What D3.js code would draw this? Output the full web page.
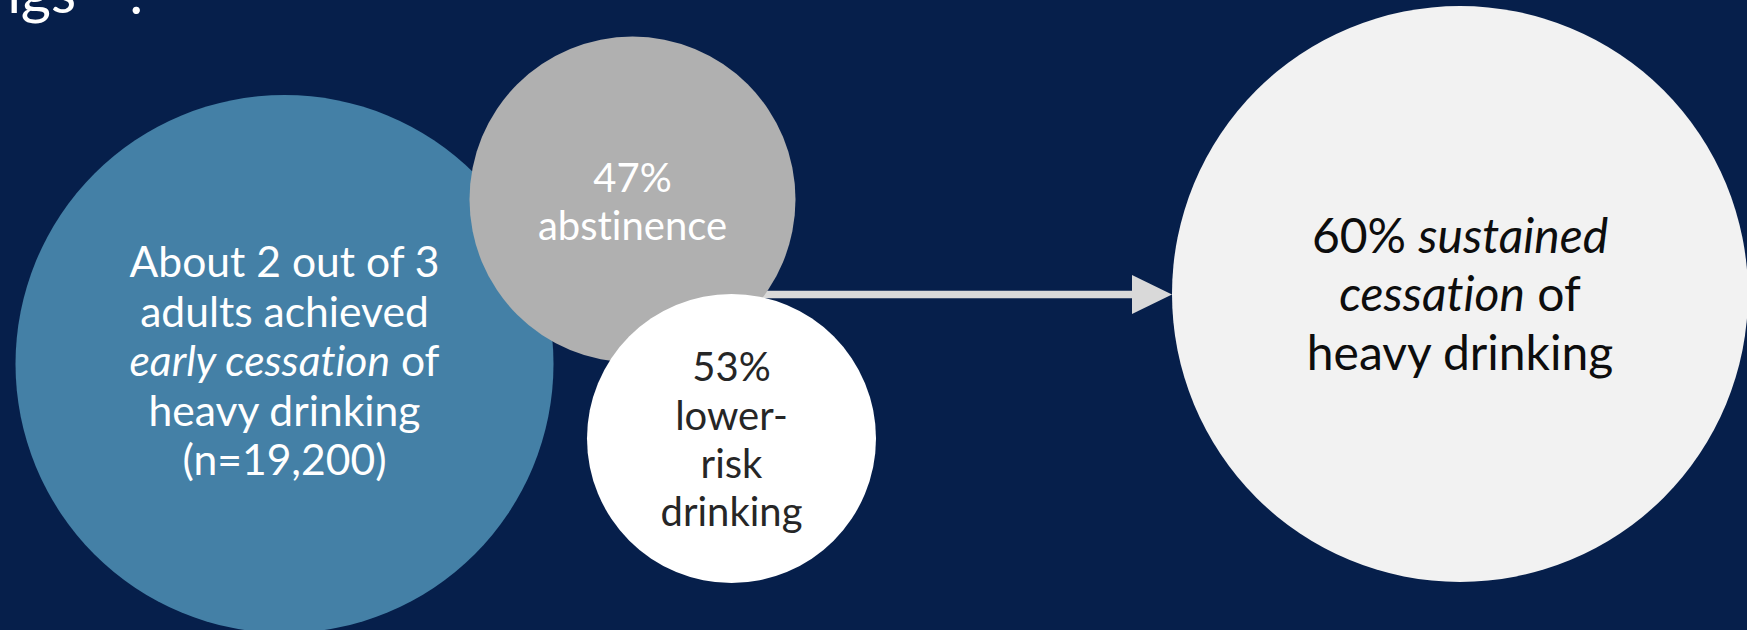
<!DOCTYPE html>
<html>
<head>
<meta charset="utf-8">
<script src="https://cdn.jsdelivr.net/npm/d3@7"></script>
<style>
	html, body { margin: 0; padding: 0; background: #061f4b; overflow: hidden; }
	svg { display: block; font-family: Lato, "Open Sans", sans-serif; font-variant-ligatures: none; }
</style>
</head>
<body>
<div id="chart"></div>
<script>
const svg_dimensions = {
	width: 1747,
	height: 630,
};

// Values shown in the bubbles
const early_cessation_share = "2 out of 3";
const early_cessation_n = "19,200";
const split_names = ["abstinence", "lower-risk drinking"];
const split_values = [47, 53];
const sustained_value = 60;

// Lines of each bubble: [text, italic]
const early_lines = [
	[["About " + early_cessation_share, false]],
	[["adults achieved", false]],
	[["early cessation", true], [" of", false]],
	[["heavy drinking", false]],
	[["(n=" + early_cessation_n + ")", false]],
];
const abstinence_lines = [
	[[split_values[0] + "%", false]],
	[[split_names[0], false]],
];
const lower_risk_lines = [
	[[split_values[1] + "%", false]],
	[["lower-", false]],
	[["risk", false]],
	[["drinking", false]],
];
const sustained_lines = [
	[[sustained_value + "% ", false], ["sustained", true]],
	[["cessation", true], [" of", false]],
	[["heavy drinking", false]],
];

// Layout in slide pixels (1747 x 630)
const bubbles = [
	{lines: early_lines, cx: 284.5, cy: 364, r: 269, fill: "#4480a6", color: "#ffffff", size: 42.6, lh: 49.5, dy: -3},
	{lines: abstinence_lines, cx: 632.5, cy: 199.5, r: 163, fill: "#b0b0b0", color: "#ffffff", size: 40, lh: 47.6, dy: 2},
	{lines: lower_risk_lines, cx: 731.5, cy: 438.5, r: 144.5, fill: "#ffffff", color: "#262626", size: 40, lh: 48.3, dy: 1},
	{lines: sustained_lines, cx: 1460, cy: 294, r: 288, fill: "#f2f2f2", color: "#0d0d0d", size: 48, lh: 58.5, dy: 0},
];
const arrow = {x0: 700, x1: 1172, y: 294.5, head_length: 40, head_half: 19.5, stroke: 7.5, color: "#d9d9d9"};

const x = d3.scaleLinear().domain([0, 1747]).range([0, svg_dimensions.width]);
const y = d3.scaleLinear().domain([0, 630]).range([0, svg_dimensions.height]);

const svg = d3.select("#chart")
	.append("svg")
		.attr("width", svg_dimensions.width)
		.attr("height", svg_dimensions.height);

svg.append("rect")
	.attr("width", svg_dimensions.width)
	.attr("height", svg_dimensions.height)
	.attr("fill", "#061f4b");

// Title, mostly cut off at the top of the slide
svg.append("text")
	.attr("x", x(76))
	.attr("y", y(13))
	.attr("text-anchor", "end")
	.attr("fill", "#ffffff")
	.attr("font-size", 58)
	.text("Key findings");
svg.append("text")
	.attr("x", x(92))
	.attr("y", y(-22))
	.attr("fill", "#ffffff")
	.attr("font-size", 34)
	.text("1");
svg.append("text")
	.attr("x", x(129))
	.attr("y", y(14))
	.attr("fill", "#ffffff")
	.attr("font-size", 58)
	.text(":");

// Arrow (drawn first so the grey bubble hides its tail)
svg.append("line")
	.attr("x1", x(arrow.x0))
	.attr("x2", x(arrow.x1 - arrow.head_length + 1))
	.attr("y1", y(arrow.y))
	.attr("y2", y(arrow.y))
	.attr("stroke", arrow.color)
	.attr("stroke-width", arrow.stroke);
svg.append("path")
	.attr("d", d3.line()([
		[x(arrow.x1 - arrow.head_length), y(arrow.y - arrow.head_half)],
		[x(arrow.x1), y(arrow.y)],
		[x(arrow.x1 - arrow.head_length), y(arrow.y + arrow.head_half)],
	]) + "Z")
	.attr("fill", arrow.color);

// Bubbles
const groups = svg.selectAll("g.bubble")
	.data(bubbles)
	.join("g")
		.attr("class", "bubble");

groups.append("circle")
	.attr("cx", d => x(d.cx))
	.attr("cy", d => y(d.cy))
	.attr("r", d => x(d.r))
	.attr("fill", d => d.fill);

groups.each(function(d) {
	const n = d.lines.length;
	const text = d3.select(this)
		.append("text")
			.attr("text-anchor", "middle")
			.attr("fill", d.color)
			.attr("font-size", d.size);
	d.lines.forEach((line, i) => {
		const base = d.cy + (i - (n - 1) / 2) * d.lh + 0.36 * d.size + d.dy;
		const row = text.append("tspan")
			.attr("x", x(d.cx))
			.attr("y", y(base));
		line.forEach(seg => {
			row.append("tspan")
				.attr("font-style", seg[1] ? "italic" : "normal")
				.text(seg[0]);
		});
	});
});
</script>
</body>
</html>
